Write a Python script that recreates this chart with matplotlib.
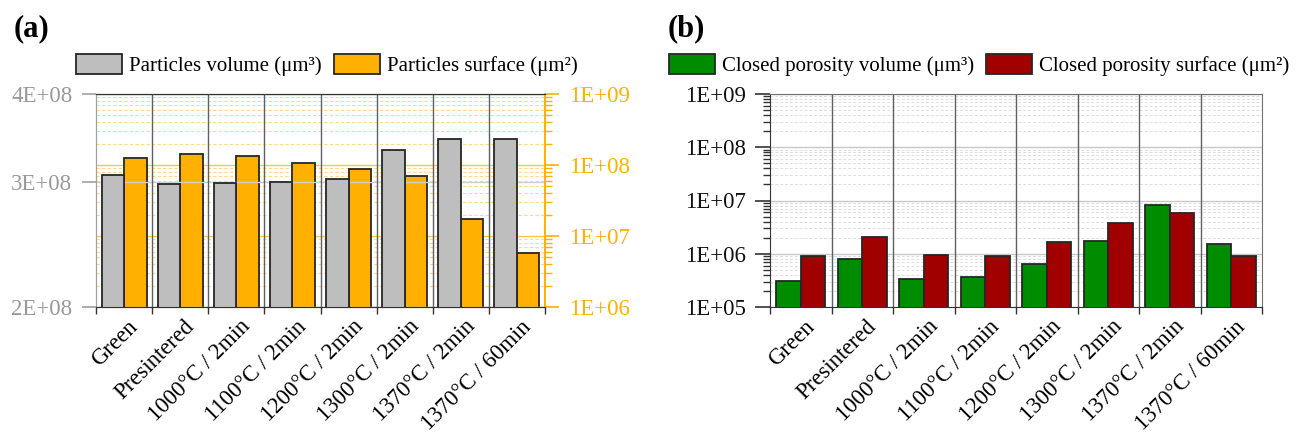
import numpy as np
import matplotlib
matplotlib.use("Agg")
import matplotlib.pyplot as plt
from matplotlib.ticker import FixedLocator, NullFormatter, LogLocator, FuncFormatter, NullLocator
from matplotlib.transforms import ScaledTranslation

plt.rcParams['font.family'] = ['Liberation Serif', 'DejaVu Serif']

categories = ["Green", "Presintered", "1000°C / 2min", "1100°C / 2min",
              "1200°C / 2min", "1300°C / 2min", "1370°C / 2min", "1370°C / 60min"]

# panel (a)
particles_volume = [3.07e8, 2.98e8, 2.99e8, 3.00e8, 3.03e8, 3.33e8, 3.45e8, 3.45e8]
particles_surface = [1.27e8, 1.41e8, 1.33e8, 1.08e8, 8.9e7, 7.1e7, 1.73e7, 5.7e6]

# panel (b)
pore_volume = [3.1e5, 7.9e5, 3.4e5, 3.6e5, 6.5e5, 1.73e6, 8.4e6, 1.55e6]
pore_surface = [9.2e5, 2.1e6, 9.6e5, 9.2e5, 1.63e6, 3.8e6, 5.8e6, 9.2e5]

GRAY = '#BEBEBE'
ORANGE = '#FFB000'
GREEN = '#008C00'
RED = '#A00000'
EDGE = '#262626'
TICK_FS = 16.5
LEG_FS = 15.0

W, H = 1296, 443
fig = plt.figure(figsize=(W / 100, H / 100), dpi=100)

x = np.arange(len(categories))
bw = 0.4


def sci(v, pos):
    return '{:.0E}'.format(v)


def setup_xaxis(ax):
    ax.set_xlim(-0.5, len(categories) - 0.5)
    ax.xaxis.set_major_locator(FixedLocator(np.arange(-0.5, len(categories), 1.0)))
    ax.xaxis.set_major_formatter(NullFormatter())
    ax.xaxis.set_minor_locator(FixedLocator(x))
    ax.set_xticks(x, categories, minor=True)
    ax.tick_params(axis='x', which='major', direction='out', length=5, width=1, color='#333333')
    ax.tick_params(axis='x', which='minor', length=0, pad=12, labelsize=TICK_FS)
    off = ScaledTranslation(11 / 100, 0, fig.dpi_scale_trans)
    for lab in ax.get_xticklabels(minor=True):
        lab.set_rotation(45)
        lab.set_ha('right')
        lab.set_va('center')
        lab.set_rotation_mode('anchor')
        lab.set_transform(lab.get_transform() + off)


def separators(ax):
    for b in np.arange(0.5, len(categories) - 0.5, 1.0):
        ax.axvline(b, color='#606060', lw=1.0, zorder=1.5)


# ---------------- panel (a) ----------------
ax_r = fig.add_axes([96 / W, 1 - 307 / H, 449 / W, 213 / H])
ax_l = ax_r.twinx()
ax_l.yaxis.set_label_position('left')
ax_l.yaxis.tick_left()
ax_r.yaxis.tick_right()
ax_l.set_zorder(ax_r.get_zorder() + 1)
ax_l.patch.set_visible(False)

ax_r.set_yscale('log')
ax_r.set_ylim(1e6, 1e9)
ax_r.yaxis.set_major_locator(LogLocator(base=10, numticks=10))
ax_r.yaxis.set_minor_locator(LogLocator(base=10, subs=np.arange(2, 10), numticks=20))
ax_r.yaxis.set_major_formatter(FuncFormatter(sci))
ax_r.yaxis.set_minor_formatter(NullFormatter())
ax_r.tick_params(axis='y', which='major', direction='out', length=10, width=1.2,
                 color=ORANGE, labelcolor=ORANGE, labelsize=TICK_FS, pad=7)
ax_r.tick_params(axis='y', which='minor', direction='out', length=5, width=1, color=ORANGE)
ax_r.grid(True, which='major', axis='y', color='#FFC640', lw=1.0, ls='-')
ax_r.grid(True, which='minor', axis='y', color='#FFD98A', lw=0.8, ls=(0, (3, 2)))
ax_r.set_axisbelow(True)
ax_r.bar(x + bw / 2, particles_surface, bw, color=ORANGE, edgecolor=EDGE, lw=1.3,
         label='Particles surface (μm²)', zorder=2)
setup_xaxis(ax_r)

ax_l.set_yscale('log')
ax_l.set_ylim(2e8, 4e8)
ax_l.yaxis.set_major_locator(FixedLocator([2e8, 3e8, 4e8]))
ax_l.yaxis.set_minor_locator(NullLocator())
ax_l.yaxis.set_major_formatter(FuncFormatter(sci))
ax_l.tick_params(axis='y', which='major', direction='out', length=10, width=1.2,
                 color='#A0A0A0', labelcolor='#999999', labelsize=TICK_FS, pad=7)
ax_l.grid(True, which='major', axis='y', color='#CFCFCF', lw=1.0)
ax_l.set_axisbelow(True)
ax_l.bar(x - bw / 2, particles_volume, bw, color=GRAY, edgecolor=EDGE, lw=1.3,
         label='Particles volume (μm³)', zorder=2)
separators(ax_l)

for a in (ax_l, ax_r):
    a.spines['left'].set_color('#A0A0A0')
    a.spines['right'].set_color(ORANGE)
    a.spines['top'].set_color('#333333')
    a.spines['bottom'].set_color('#333333')
    a.spines['right'].set_linewidth(1.2)

h1, l1 = ax_l.get_legend_handles_labels()
h2, l2 = ax_r.get_legend_handles_labels()
fig.legend(h1 + h2, l1 + l2, loc='center left', bbox_to_anchor=(76 / W, 1 - 65 / H),
           ncol=2, frameon=False, fontsize=LEG_FS, borderpad=0, borderaxespad=0,
           handlelength=2.2, handleheight=1.12, handletextpad=0.33, columnspacing=0.6)
fig.text(14 / W, 1 - 36 / H, '(a)', fontsize=22, fontweight='bold', va='baseline')

# ---------------- panel (b) ----------------
ax_b = fig.add_axes([770 / W, 1 - 307 / H, 492 / W, 213 / H])
ax_b.set_yscale('log')
ax_b.set_ylim(1e5, 1e9)
ax_b.yaxis.set_major_locator(LogLocator(base=10, numticks=10))
ax_b.yaxis.set_minor_locator(LogLocator(base=10, subs=np.arange(2, 10), numticks=20))
ax_b.yaxis.set_major_formatter(FuncFormatter(sci))
ax_b.yaxis.set_minor_formatter(NullFormatter())
ax_b.tick_params(axis='y', which='major', direction='out', length=11, width=1.2,
                 color='#333333', labelcolor='#111111', labelsize=TICK_FS, pad=6)
ax_b.tick_params(axis='y', which='minor', direction='out', length=5, width=1, color='#333333')
ax_b.grid(True, which='major', axis='y', color='#C8C8C8', lw=1.0)
ax_b.grid(True, which='minor', axis='y', color='#DDDDDD', lw=0.7, ls=(0, (3, 2)))
ax_b.set_axisbelow(True)
ax_b.bar(x - bw / 2, pore_volume, bw, color=GREEN, edgecolor=EDGE, lw=1.3,
         label='Closed porosity volume (μm³)', zorder=2)
ax_b.bar(x + bw / 2, pore_surface, bw, color=RED, edgecolor=EDGE, lw=1.3,
         label='Closed porosity surface (μm²)', zorder=2)
for s in ('left', 'bottom'):
    ax_b.spines[s].set_color('#333333')
for s in ('top', 'right'):
    ax_b.spines[s].set_color('#707070')
setup_xaxis(ax_b)
separators(ax_b)

ax_b.legend(loc='center left', bbox_to_anchor=(669 / W, 1 - 65 / H),
            bbox_transform=fig.transFigure, ncol=2, frameon=False, fontsize=LEG_FS,
            borderpad=0, borderaxespad=0, handlelength=2.2, handleheight=1.12,
            handletextpad=0.33, columnspacing=0.6)
fig.text(668 / W, 1 - 36 / H, '(b)', fontsize=22, fontweight='bold', va='baseline')

fig.savefig('out.png', dpi=100)
